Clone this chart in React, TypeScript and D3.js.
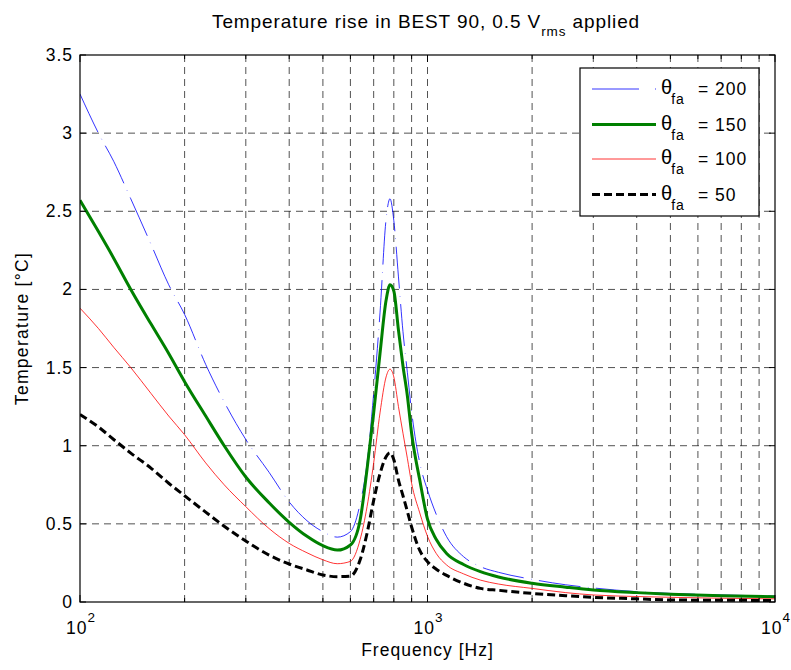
import React from "react";
import * as d3 from "d3";

const freqs = [100,113,125,140,160,180,200,230,260,300,350,400,450,500,550,600,640,670,700,730,760,780,800,825,850,875,900,950,1000,1060,1135,1270,1420,1600,2000,2500,3000,4000,5000,7000,10000];

const theta200 = [3.25,3.0,2.82,2.58,2.29,2.03,1.84,1.52,1.28,1.04,0.83,0.64,0.52,0.45,0.415,0.45,0.63,0.89,1.335,1.85,2.45,2.58,2.44,2.08,1.73,1.47,1.22,0.89,0.716,0.56,0.418,0.29,0.226,0.19,0.145,0.11,0.09,0.066,0.055,0.045,0.038];
const theta150 = [2.57,2.37,2.2,2.0,1.78,1.59,1.41,1.19,1.0,0.80,0.635,0.51,0.42,0.36,0.332,0.365,0.525,0.85,1.21,1.59,1.93,2.03,1.99,1.74,1.51,1.32,1.08,0.78,0.53,0.40,0.31,0.24,0.194,0.16,0.12,0.095,0.077,0.06,0.05,0.04,0.034];
const theta100 = [1.88,1.75,1.63,1.5,1.335,1.19,1.07,0.89,0.75,0.61,0.47,0.375,0.315,0.27,0.245,0.26,0.40,0.61,0.89,1.21,1.44,1.49,1.44,1.25,1.08,0.92,0.76,0.57,0.42,0.31,0.237,0.18,0.14,0.115,0.087,0.06,0.045,0.035,0.03,0.024,0.02];
const theta50 = [1.20,1.12,1.04,0.953,0.857,0.76,0.68,0.575,0.485,0.39,0.30,0.243,0.205,0.173,0.162,0.166,0.27,0.44,0.65,0.82,0.93,0.955,0.91,0.78,0.68,0.58,0.48,0.33,0.258,0.21,0.17,0.12,0.087,0.075,0.055,0.04,0.03,0.02,0.013,0.011,0.01];

const yTicks = [0,0.5,1,1.5,2,2.5,3,3.5];
const yTickLabels = ["0","0.5","1","1.5","2","2.5","3","3.5"];
const xMajor = [100,1000,10000];
const xMajorExp = ["2","3","4"];
const xMinor = [200,300,400,500,600,700,800,900,2000,3000,4000,5000,6000,7000,8000,9000];

const seriesNames = ["200","150","100","50"];
const seriesData = [theta200, theta150, theta100, theta50];
const seriesColors = ["#0000ff","#008000","#ff0000","#000000"];
const seriesWidths = [0.8, 3, 0.8, 3];
const seriesDash = ["42,7.5,0.5,7.5", null, null, "8,4"];

const W = 791, H = 670;
const L = 80, R = 775, T = 55, B = 602;
const FONT = "Liberation Sans, Arial, Helvetica, sans-serif";

export default function App() {
  const x = d3.scaleLog().domain([100, 10000]).range([L, R]);
  const y = d3.scaleLinear().domain([0, 3.5]).range([B, T]);
  const line = d3.line<number>()
    .x((_, i) => x(freqs[i]))
    .y((d) => y(d))
    .curve(d3.curveMonotoneX);

  const gridV = [...xMinor, 1000];
  const gridH = yTicks.filter((v) => v > 0 && v < 3.5);

  const legX = 580, legY = 68, legW = 179, legH = 148;
  const legRows = [89, 124.5, 159, 194.5];

  return (
    <svg width={W} height={H} style={{ position: "absolute", left: 0, top: 0, background: "#fff" }} fontFamily={FONT}>
      <rect x={0} y={0} width={W} height={H} fill="#fff" />
      <defs>
        <clipPath id="plotclip">
          <rect x={L} y={T} width={R - L} height={B - T} />
        </clipPath>
      </defs>
      {/* grid */}
      <g stroke="#000" strokeWidth={0.8} strokeDasharray="7,5" opacity={0.85}>
        {gridV.map((f) => (
          <line key={"gv" + f} x1={x(f)} x2={x(f)} y1={B} y2={T} />
        ))}
        {gridH.map((v) => (
          <line key={"gh" + v} x1={L} x2={R} y1={y(v)} y2={y(v)} />
        ))}
      </g>
      {/* series */}
      <g clipPath="url(#plotclip)" fill="none" strokeLinejoin="round">
        {seriesData.map((d, i) => (
          <path
            key={"s" + i}
            d={line(d) || ""}
            stroke={seriesColors[i]}
            strokeWidth={seriesWidths[i]}
            strokeDasharray={seriesDash[i] || undefined}
          />
        ))}
      </g>
      {/* axes box */}
      <rect x={L} y={T} width={R - L} height={B - T} fill="none" stroke="#000" strokeWidth={1.2} />
      {/* ticks */}
      <g stroke="#000" strokeWidth={1}>
        {yTicks.map((v) => (
          <g key={"yt" + v}>
            <line x1={L} x2={L + 6} y1={y(v)} y2={y(v)} />
            <line x1={R} x2={R - 6} y1={y(v)} y2={y(v)} />
          </g>
        ))}
        {xMajor.map((f) => (
          <g key={"xt" + f}>
            <line x1={x(f)} x2={x(f)} y1={B} y2={B - 7} />
            <line x1={x(f)} x2={x(f)} y1={T} y2={T + 7} />
          </g>
        ))}
        {xMinor.map((f) => (
          <g key={"xm" + f}>
            <line x1={x(f)} x2={x(f)} y1={B} y2={B - 4} />
            <line x1={x(f)} x2={x(f)} y1={T} y2={T + 4} />
          </g>
        ))}
      </g>
      {/* y tick labels */}
      <g fontSize={17.5} fill="#000" textAnchor="end" letterSpacing={1}>
        {yTicks.map((v, i) => (
          <text key={"yl" + v} x={L - 7} y={y(v) + 6}>{yTickLabels[i]}</text>
        ))}
      </g>
      {/* x tick labels */}
      <g fontSize={17.5} fill="#000" letterSpacing={1}>
        {xMajor.map((f, i) => (
          <text key={"xl" + f} x={x(f) - 14} y={634}>
            10<tspan fontSize={13.5} dy={-12}>{xMajorExp[i]}</tspan>
          </text>
        ))}
      </g>
      {/* axis labels */}
      <text x={(L + R) / 2} y={656} fontSize={17.5} textAnchor="middle" letterSpacing={1}>Frequency [Hz]</text>
      <text transform={`translate(28,${(T + B) / 2}) rotate(-90)`} fontSize={17.5} textAnchor="middle" letterSpacing={1.3}>Temperature [°C]</text>
      {/* title */}
      <text x={212} y={28} fontSize={19} letterSpacing={0.9}>
        Temperature rise in BEST 90, 0.5 V<tspan fontSize={13.5} dy={8}>rms</tspan><tspan dy={-8}> applied</tspan>
      </text>
      {/* legend */}
      <rect x={legX} y={legY} width={legW} height={legH} fill="#fff" stroke="#000" strokeWidth={1.2} />
      {seriesNames.map((n, i) => (
        <g key={"lg" + i}>
          <line
            x1={592} x2={656} y1={legRows[i]} y2={legRows[i]}
            stroke={seriesColors[i]}
            strokeWidth={seriesWidths[i]}
            strokeDasharray={seriesDash[i] ? (i === 0 ? "47,16,1,8" : seriesDash[i]!) : undefined}
          />
          <text x={661} y={legRows[i] + 5} fontSize={20}>
            θ<tspan fontSize={14} dx={-1} dy={10} letterSpacing={1}>fa</tspan>
            <tspan fontSize={17.5} x={698} dy={-9} letterSpacing={1}>= {n}</tspan>
          </text>
        </g>
      ))}
    </svg>
  );
}
